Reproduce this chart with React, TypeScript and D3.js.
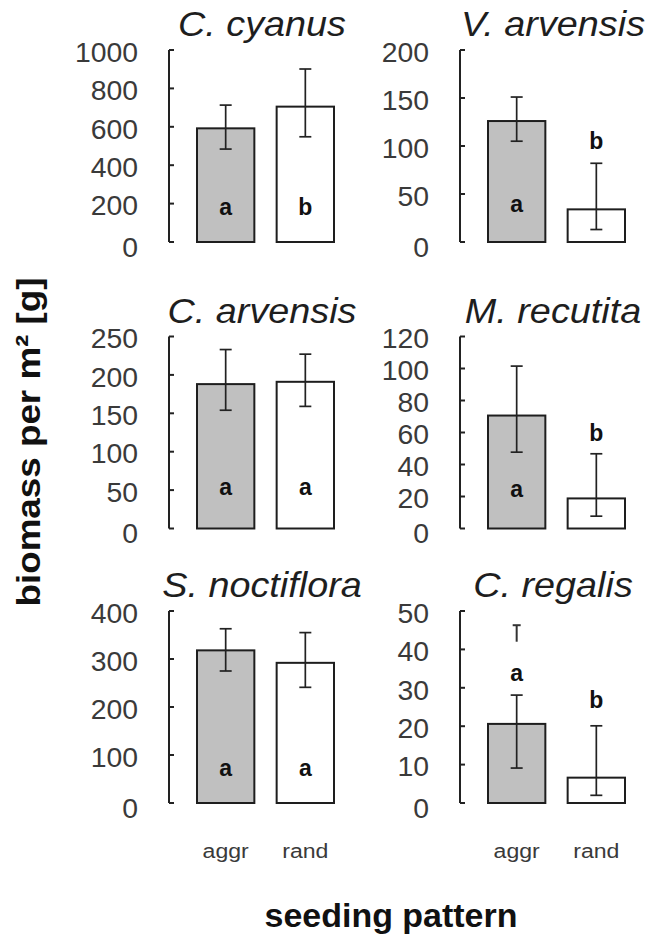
import React from "react";
import * as d3 from "d3";

// Six weed species, biomass per m² under aggregated vs random seeding
const species = ["C. cyanus", "V. arvensis", "C. arvensis", "M. recutita", "S. noctiflora", "C. regalis"];
const patterns = ["aggr", "rand"];
const yMax = [1000, 200, 250, 120, 400, 50];
const tickStep = [200, 50, 50, 20, 100, 10];

const meanAggr = [592, 126, 188, 70.6, 318, 20.6];
const meanRand = [705, 34, 191, 18.8, 292, 6.6];
const upperAggr = [713, 151, 233, 101.5, 363, 28.1];
const lowerAggr = [484, 105, 154, 47.7, 275, 9.1];
const upperRand = [901, 82, 227, 46.7, 355, 20.1];
const lowerRand = [548, 13, 159, 7.7, 241, 2.0];

const letterAggr = ["a", "a", "a", "a", "a", "a"];
const letterRand = ["b", "b", "a", "b", "a", "b"];
const letterAggrAt = [184, 40, 55, 25, 73, 34];
const letterRandAt = [184, 106, 55, 60, 73, 27];

// detached whisker fragment above the C. regalis aggr bar
const loneWhisker: (number[] | null)[] = [null, null, null, null, null, [42, 46.3]];

const W = 652;
const H = 938;
const colAxisX = [169, 460];
const rowBottom = [242, 528.5, 803];
const plotH = 192;

const FONT = "'Liberation Sans', Arial, sans-serif";

function Panel({ i }: { i: number }) {
  const col = i % 2;
  const row = Math.floor(i / 2);
  const ax = colAxisX[col];
  const y0 = rowBottom[row];
  const y = d3.scaleLinear().domain([0, yMax[i]]).range([y0, y0 - plotH]);
  const x = d3
    .scaleBand<string>()
    .domain(patterns)
    .range([ax + 28, ax + 28 + 137])
    .paddingInner(0.28)
    .paddingOuter(0);
  const ticks = d3.range(0, yMax[i] + tickStep[i] / 2, tickStep[i]);
  const bw = x.bandwidth();

  const bars = [
    { p: "aggr", m: meanAggr[i], up: upperAggr[i], lo: lowerAggr[i], fill: "#c0c0c0", letter: letterAggr[i], la: letterAggrAt[i] },
    { p: "rand", m: meanRand[i], up: upperRand[i], lo: lowerRand[i], fill: "#ffffff", letter: letterRand[i], la: letterRandAt[i] },
  ];
  const cap = 6;
  const titleX = ax + 93;
  const lw = loneWhisker[i];

  return (
    <g>
      {/* title */}
      <text
        transform={`translate(${titleX},${y0 - plotH - 14}) scale(1.08,1)`}
        textAnchor="middle"
        fontFamily={FONT}
        fontStyle="italic"
        fontSize={35}
        fill="#1e1e1e"
      >
        {species[i]}
      </text>
      {/* axis */}
      <line x1={ax} x2={ax} y1={y(0)} y2={y(yMax[i])} stroke="#222" strokeWidth={2} />
      {ticks.map((t) => (
        <g key={t}>
          <line x1={ax} x2={ax + 5} y1={y(t)} y2={y(t)} stroke="#222" strokeWidth={2} />
          <text
            transform={`translate(${ax - 31},${y(t) + (t === 0 ? 5 : 2)}) scale(1.05,1)`}
            textAnchor="end"
            dy="0.36em"
            fontFamily={FONT}
            fontSize={27}
            fill="#3a3a3a"
          >
            {t}
          </text>
        </g>
      ))}
      {/* bars */}
      {bars.map((b) => {
        const bx = x(b.p)!;
        const cx = bx + bw / 2;
        return (
          <g key={b.p}>
            <rect x={bx} y={y(b.m)} width={bw} height={y(0) - y(b.m)} fill={b.fill} stroke="#1e1e1e" strokeWidth={2} />
            <line x1={cx} x2={cx} y1={y(b.up)} y2={y(b.lo)} stroke="#222" strokeWidth={1.7} />
            <line x1={cx - cap} x2={cx + cap} y1={y(b.up)} y2={y(b.up)} stroke="#222" strokeWidth={1.7} />
            <line x1={cx - cap} x2={cx + cap} y1={y(b.lo)} y2={y(b.lo)} stroke="#222" strokeWidth={1.7} />
            <text
              x={cx}
              y={y(b.la)}
              dy="0.36em"
              textAnchor="middle"
              fontFamily={FONT}
              fontWeight="bold"
              fontSize={23}
              fill="#111"
            >
              {b.letter}
            </text>
          </g>
        );
      })}
      {lw && (
        <g>
          <line x1={x("aggr")! + bw / 2} x2={x("aggr")! + bw / 2} y1={y(lw[1])} y2={y(lw[0])} stroke="#333" strokeWidth={2} />
          <line x1={x("aggr")! + bw / 2 - 4} x2={x("aggr")! + bw / 2 + 4} y1={y(lw[1])} y2={y(lw[1])} stroke="#333" strokeWidth={2} />
        </g>
      )}
      {/* category labels under bottom row */}
      {row === 2 &&
        patterns.map((p) => (
          <text
            key={p}
            transform={`translate(${x(p)! + bw / 2},858) scale(1.1,1)`}
            textAnchor="middle"
            fontFamily={FONT}
            fontSize={21}
            fill="#3a3a3a"
          >
            {p}
          </text>
        ))}
    </g>
  );
}

export default function App() {
  return (
    <svg
      width={W}
      height={H}
      viewBox={`0 0 ${W} ${H}`}
      style={{ position: "absolute", left: 0, top: 0, background: "#fff", display: "block" }}
    >
      <rect width={W} height={H} fill="#fff" />
      {species.map((_, i) => (
        <Panel key={i} i={i} />
      ))}
      <text
        transform="translate(40,442) rotate(-90)"
        textAnchor="middle"
        fontFamily={FONT}
        fontWeight="bold"
        fontSize={33}
        textLength={329}
        lengthAdjust="spacingAndGlyphs"
        fill="#111"
      >
        biomass per m² [g]
      </text>
      <text
        x={391}
        y={927}
        textAnchor="middle"
        fontFamily={FONT}
        fontWeight="bold"
        fontSize={33}
        textLength={253}
        lengthAdjust="spacingAndGlyphs"
        fill="#111"
      >
        seeding pattern
      </text>
    </svg>
  );
}
